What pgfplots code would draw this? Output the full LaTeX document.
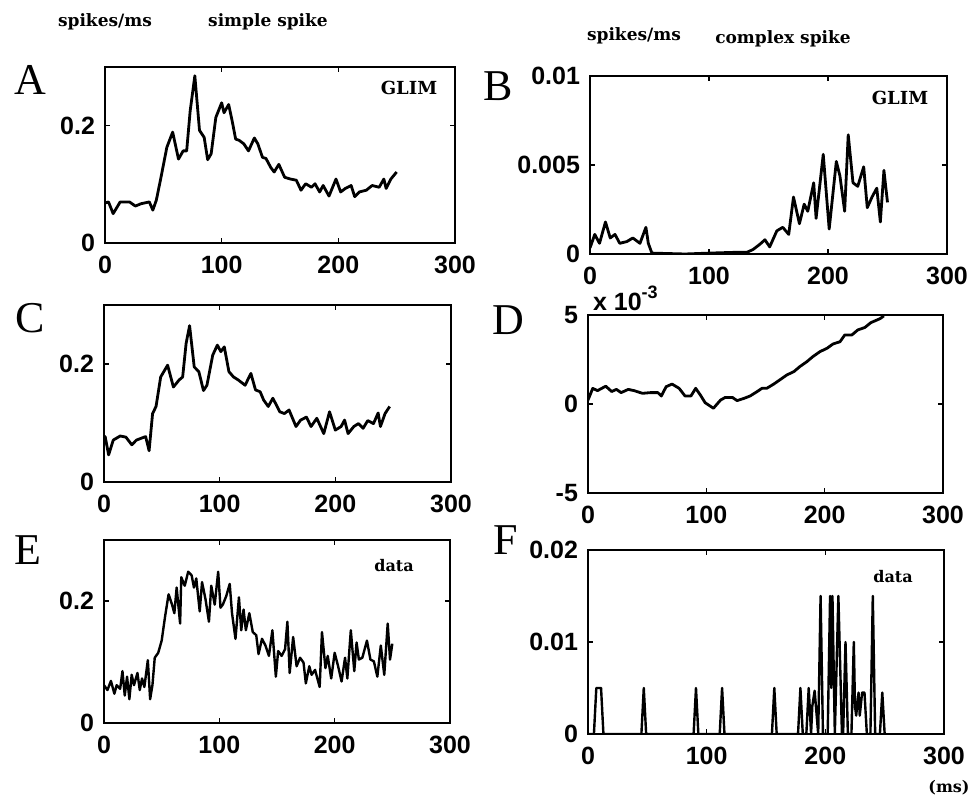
\documentclass[border=0pt]{standalone}
\usepackage{fontspec}
\setmainfont{Liberation Serif}
\setsansfont{Liberation Sans}
\newfontfamily\lbl{DejaVu Serif}
\usepackage{pgfplots}
\pgfplotsset{compat=1.18}
\pgfplotsset{
  panel/.style={
    scale only axis, anchor=north west,
    xmin=0, xmax=300, xtick={0,100,200,300}, xticklabels={0,100,200,300},
    tick align=inside, major tick length=2.5pt,
    axis line style={line width=1pt},
    every tick/.style={black, line width=0.7pt},
    tick label style={font=\fontsize{12.5}{14}\selectfont\sffamily\bfseries},
    yticklabel style={xshift=-1.5pt},
    xticklabel style={yshift=-3pt},
    scaled ticks=false,
  },
  dline/.style={black, line width=1.4pt, line join=round, mark=none},
}
\newcommand\lab{\lbl\bfseries\fontsize{8.5}{10}\selectfont}
\newcommand\letr{\fontsize{22}{24}\selectfont}
\begin{document}
\begin{tikzpicture}
\path[use as bounding box] (0,0) rectangle (485.5pt,-400.5pt);

% ---------- A ----------
\begin{axis}[panel, at={(52.5pt,-33.5pt)}, width=175pt, height=88pt,
  ymin=0, ymax=0.3, ytick={0,0.2}, yticklabels={0,0.2}]
\addplot[dline] coordinates {
(0,0.068)(3,0.07)(7,0.05)(13,0.07)(21,0.07)(26,0.063)(31,0.067)(38,0.07)(41,0.056)(44,0.073)
(48,0.112)(53,0.163)(58,0.189)(63,0.143)(67,0.157)(70,0.157)(73,0.225)(77,0.285)(81,0.192)
(85,0.18)(88,0.142)(91,0.152)(95,0.214)(100,0.239)(102,0.222)(106,0.236)(109,0.208)(112,0.177)
(115,0.175)(119,0.169)(123,0.157)(128,0.179)(131,0.169)(135,0.146)(138,0.144)(142,0.129)
(145,0.121)(149,0.134)(154,0.112)(159,0.109)(164,0.107)(168,0.09)(172,0.101)(177,0.095)
(180,0.101)(184,0.087)(187,0.098)(192,0.08)(198,0.109)(202,0.087)(206,0.093)(211,0.098)
(214,0.079)(218,0.087)(224,0.09)(229,0.098)(235,0.095)(239,0.109)(241,0.093)(245,0.109)(250,0.121)};
\end{axis}

% ---------- B ----------
\begin{axis}[panel, at={(295pt,-38pt)}, width=178.5pt, height=89pt,
  ymin=0, ymax=0.01, ytick={0,0.005,0.01}, yticklabels={0,0.005,0.01}]
\addplot[dline] coordinates {
(0,0.00034)(4,0.0011)(8,0.0006)(13,0.0018)(17,0.0009)(21,0.0011)(25,0.0006)(31,0.0007)
(36,0.0009)(42,0.0006)(47,0.0015)(49,0.0006)(52,0.00005)(80,0.0)(100,0.00005)(125,0.0001)
(132,0.0001)(137,0.00025)(143,0.00056)(147,0.0008)(151,0.0004)(157,0.0013)(162,0.0015)
(167,0.0011)(171,0.0032)(176,0.0017)(180,0.0028)(183,0.0024)(188,0.004)(190,0.002)
(196,0.0056)(201,0.0014)(207,0.0052)(210,0.0044)(214,0.0024)(217,0.0067)(221,0.004)
(225,0.0038)(230,0.0049)(233,0.0026)(237,0.0032)(241,0.0037)(244,0.0018)(247,0.0047)(250,0.0029)};
\end{axis}

% ---------- C ----------
\begin{axis}[panel, at={(52pt,-152.5pt)}, width=173.5pt, height=88.5pt,
  ymin=0, ymax=0.3, ytick={0,0.2}, yticklabels={0,0.2}]
\addplot[dline] coordinates {
(0,0.071)(1,0.077)(4,0.046)(8,0.071)(14,0.078)(19,0.076)(24,0.063)(28,0.071)(32,0.074)
(36,0.077)(39,0.053)(42,0.116)(45,0.128)(49,0.178)(55,0.198)(60,0.161)(65,0.173)(68,0.178)
(71,0.235)(74,0.265)(78,0.195)(82,0.187)(86,0.155)(89,0.164)(94,0.215)(98,0.232)(101,0.221)
(104,0.229)(108,0.187)(112,0.178)(116,0.173)(122,0.164)(127,0.184)(131,0.156)(135,0.153)
(138,0.139)(142,0.128)(146,0.142)(152,0.119)(156,0.116)(160,0.122)(166,0.094)(170,0.105)
(175,0.11)(179,0.094)(184,0.108)(190,0.082)(195,0.119)(200,0.088)(205,0.094)(208,0.105)
(211,0.082)(216,0.094)(220,0.099)(224,0.091)(228,0.104)(233,0.099)(237,0.117)(239,0.094)
(243,0.116)(247,0.128)};
\end{axis}

% ---------- D ----------
\begin{axis}[panel, at={(294pt,-157.5pt)}, width=177.5pt, height=89pt,
  ymin=-5, ymax=5, ytick={-5,0,5}, yticklabels={-5,0,5}]
\addplot[dline] coordinates {
(0,0.22)(4,0.88)(8,0.75)(15,1.0)(20,0.7)(24,0.82)(28,0.64)(34,0.82)(39,0.75)(46,0.6)
(53,0.64)(59,0.64)(62,0.45)(66,0.97)(71,1.12)(77,0.88)(82,0.45)(87,0.45)(91,0.88)(95,0.5)
(99,0.07)(106,-0.24)(112,0.22)(116,0.37)(122,0.37)(126,0.19)(132,0.32)(137,0.45)(143,0.7)
(147,0.88)(151,0.88)(157,1.12)(162,1.35)(168,1.63)(174,1.82)(179,2.1)(185,2.38)(190,2.66)
(196,2.94)(202,3.13)(207,3.37)(213,3.5)(217,3.88)(223,3.88)(228,4.16)(234,4.3)(239,4.57)
(247,4.8)(250,4.95)};
\end{axis}

% ---------- E ----------
\begin{axis}[panel, at={(52pt,-270pt)}, width=173pt, height=91.5pt,
  ymin=0, ymax=0.3, ytick={0,0.2}, yticklabels={0,0.2}]
\addplot[black, line width=1.2pt, line join=round] coordinates {
(0,0.062)(3,0.054)(6,0.069)(9,0.048)(11,0.062)(14,0.056)(16,0.085)(18,0.045)(20,0.076)
(22,0.039)(24,0.079)(26,0.062)(29,0.082)(31,0.054)(33,0.073)(35,0.059)(38,0.103)(40,0.039)
(42,0.062)(44,0.107)(47,0.115)(50,0.135)(53,0.175)(56,0.211)(59,0.194)(61,0.18)(63,0.222)
(66,0.163)(67,0.239)(70,0.225)(73,0.248)(76,0.242)(78,0.222)(80,0.237)(83,0.183)(85,0.231)
(88,0.203)(91,0.166)(93,0.225)(96,0.194)(99,0.248)(101,0.189)(103,0.194)(106,0.208)
(109,0.228)(111,0.18)(114,0.138)(117,0.206)(119,0.152)(121,0.186)(123,0.152)(126,0.18)
(129,0.149)(132,0.144)(134,0.113)(137,0.138)(140,0.127)(143,0.11)(146,0.152)(149,0.076)
(151,0.118)(154,0.11)(157,0.121)(159,0.166)(161,0.082)(164,0.141)(167,0.093)(170,0.107)
(173,0.099)(175,0.065)(178,0.093)(180,0.079)(183,0.087)(187,0.059)(189,0.149)(192,0.09)
(194,0.11)(197,0.073)(200,0.115)(203,0.093)(206,0.068)(209,0.107)(211,0.073)(214,0.152)
(217,0.085)(219,0.132)(221,0.104)(224,0.107)(228,0.135)(231,0.104)(234,0.101)(237,0.076)
(240,0.127)(243,0.079)(246,0.163)(248,0.104)(250,0.13)};
\end{axis}

% ---------- F ----------
\begin{axis}[panel, at={(294pt,-275pt)}, width=178pt, height=92pt,
  ymin=0, ymax=0.02, ytick={0,0.01,0.02}, yticklabels={0,0.01,0.02}]
\addplot[black, line width=1.2pt, line join=round] coordinates {
(0,0)(5,0)(7,0.005)(11,0.005)(13,0)(45,0)(47,0.005)(49,0)(89,0)(91,0.005)(93,0)
(111,0)(113,0.005)(115,0)(155,0)(157,0.005)(159,0)(177,0)(179,0.005)(181,0)(184,0)
(186,0.005)(188,0)(189,0.003)(191,0.0047)(194,0)(196,0.015)(198,0)(202,0)(204,0.015)
(205,0.005)(206,0.015)(208,0)(209,0.005)(211,0.015)(213,0.005)(214,0)(215,0)(217,0.01)
(219,0)(222,0)(224,0.01)(225,0.003)(226,0.002)(228,0.0045)(229,0.002)(231,0.0045)
(233,0.0045)(235,0)(238,0)(240,0.015)(242,0)(246,0)(248,0.0045)(250,0)};
\end{axis}

% ---------- texts ----------
\node[font=\lab] at (52.5pt,-11pt) {spikes/ms};
\node[font=\lab] at (134pt,-11pt) {simple spike};
\node[font=\lab] at (317pt,-18pt) {spikes/ms};
\node[font=\lab] at (391.5pt,-19.5pt) {complex spike};

\node[font=\letr] at (15pt,-40pt) {A};
\node[font=\letr] at (249pt,-43pt) {B};
\node[font=\letr] at (15pt,-159pt) {C};
\node[font=\letr] at (254pt,-160pt) {D};
\node[font=\letr] at (14pt,-275pt) {E};
\node[font=\letr] at (253pt,-270pt) {F};

\node[font=\lbl\bfseries\fontsize{9}{10}\selectfont] at (204.5pt,-44pt) {GLIM};
\node[font=\lbl\bfseries\fontsize{9}{10}\selectfont] at (450pt,-49pt) {GLIM};
\node[font=\lbl\bfseries\fontsize{8}{10}\selectfont] at (197pt,-283pt) {data};
\node[font=\lbl\bfseries\fontsize{8}{10}\selectfont] at (446.5pt,-288.5pt) {data};

\node[anchor=west, font=\fontsize{12.5}{14}\selectfont\sffamily\bfseries] at (293pt,-149pt) {x 10\raisebox{0.9ex}{\fontsize{9}{10}\selectfont -3}};
\node[font=\lbl\bfseries\fontsize{8}{10}\selectfont] at (474.5pt,-394pt) {(ms)};
\end{tikzpicture}
\end{document}
